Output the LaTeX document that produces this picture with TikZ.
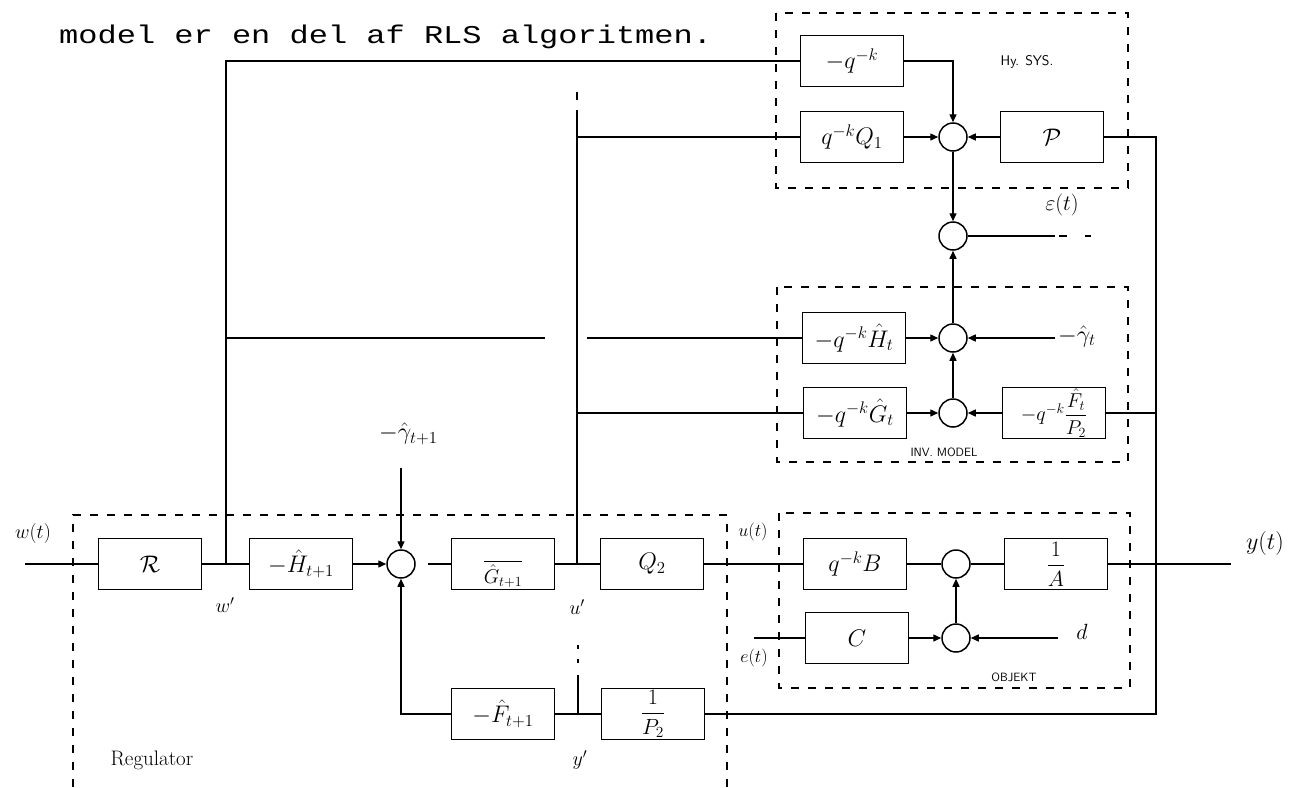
\RequirePackage{fix-cm}
\documentclass[tikz,border=0pt]{standalone}
\usepackage{amsmath}
\usepackage{fontspec}
\newfontfamily\typew{Liberation Mono}
\usetikzlibrary{arrows.meta}
\begin{document}
\begin{tikzpicture}[x=1pt,y=-1pt,
  blk/.style={draw,line width=1.5pt,minimum width=103pt,minimum height=51pt,inner sep=0pt,font=\fontsize{24}{26}\selectfont},
  sum/.style={draw,circle,line width=1.5pt,minimum size=28pt,inner sep=0pt},
  ln/.style={line width=1.4pt},
  arr/.style={line width=1.4pt,-{Triangle[length=8pt,width=7pt]}},
  dsh/.style={line width=1.4pt,dash pattern=on 8pt off 9pt},
  lbl/.style={inner sep=0pt,font=\fontsize{20}{22}\selectfont},
  tag/.style={inner sep=0pt,font=\sffamily\fontsize{12}{14}\selectfont}]
\useasboundingbox (0,0) rectangle (1305,787);

% top line of text
\node[anchor=base west,inner sep=0pt] (txt) at (59,43)
  {\scalebox{1}[0.8]{\typew\fontsize{32}{32}\selectfont model er en del af RLS algoritmen.}};

% dashed groups
\draw[dsh] (776,13) rectangle (1128,188);
\draw[dsh] (777,287) rectangle (1128,462);
\draw[dsh] (779,513) rectangle (1130,688);
\draw[dsh] (73,787) -- (73,515) -- (727,515) -- (727,787);

% Hy. sys.
\node[blk] (mq) at (852,61) {$-q^{-k}$};
\node[blk] (q1) at (852,137) {$q^{-k}Q_1$};
\node[sum] (s1) at (953,137) {};
\node[blk] (P) at (1052,137) {$\mathcal{P}$};
\node[tag,font=\sffamily\fontsize{14}{16}\selectfont] (hy) at (1027,62) {Hy. SYS.};
\node[sum] (s2) at (953,236) {};
\node[lbl,font=\fontsize{22}{24}\selectfont] (eps) at (1062,205) {$\varepsilon(t)$};

% inverse model
\node[blk] (hh) at (854,338) {$-q^{-k}\hat H_t$};
\node[sum] (s3) at (953,338) {};
\node[blk] (gh) at (855,413) {$-q^{-k}\hat G_t$};
\node[sum] (s4) at (953,413) {};
\node[blk,font=\fontsize{20}{22}\selectfont] (fp) at (1054,413) {$-q^{-k}\dfrac{\hat F_t}{P_2}$};
\node[tag] (inv) at (944,452) {INV. MODEL};
\node[anchor=west,inner sep=0pt,font=\fontsize{24}{26}\selectfont] (gt) at (1058,336) {$-\hat{\gamma}_t$};

% regulator
\node[blk] (R) at (150,564) {$\mathcal{R}$};
\node[blk] (H1) at (301,564) {$-\hat H_{t+1}$};
\node[sum] (s5) at (401,564) {};
\node[blk,font=\fontsize{20}{22}\selectfont] (G1) at (503,564) {$\dfrac{\phantom{1}}{\hat G_{t+1}}$};
\node[blk] (Q2) at (652,564) {$Q_2$};
\node[blk] (F1) at (503,714) {$-\hat F_{t+1}$};
\node[blk,font=\fontsize{22}{24}\selectfont] (P2) at (653,714) {$\dfrac{1}{P_2}$};
\node[anchor=west,inner sep=0pt,font=\fontsize{24}{26}\selectfont] (g1) at (379,434) {$-\hat{\gamma}_{t+1}$};
\node[lbl,font=\fontsize{21}{23}\selectfont] (reg) at (152,760) {Regulator};
\node[lbl] (wt) at (33,533) {$w(t)$};
\node[lbl] (wp) at (225,605) {$w'$};
\node[lbl] (up) at (577,607) {$u'$};
\node[lbl] (yp) at (580,760) {$y'$};

% object
\node[blk] (B) at (855,564) {$q^{-k}B$};
\node[sum] (s6) at (956,564) {};
\node[blk,font=\fontsize{22}{24}\selectfont] (A) at (1056,564) {$\dfrac{1}{A}$};
\node[blk] (C) at (857,638) {$C$};
\node[sum] (s7) at (956,638) {};
\node[tag] (obj) at (1014,677) {OBJEKT};
\node[lbl,font=\fontsize{18}{20}\selectfont] (ut) at (753,532) {$u(t)$};
\node[lbl,font=\fontsize{18}{20}\selectfont] (et) at (754,658) {$e(t)$};
\node[lbl,font=\fontsize{22}{24}\selectfont] (dd) at (1082,632) {$d$};
\node[lbl,font=\fontsize{24}{26}\selectfont] (yt) at (1265,543) {$y(t)$};

% coordinates
\coordinate (win) at (25,564);
\coordinate (jw) at (226,564);
\coordinate (ju) at (577,564);
\coordinate (jutop) at (577,110);
\coordinate (cg1) at (545,338);
\coordinate (cg2) at (587,338);
\coordinate (jr1) at (1156,137);
\coordinate (jr2) at (1156,413);
\coordinate (jr3) at (1156,714);
\coordinate (jy) at (578,714);
\coordinate (yout) at (1231,564);
\coordinate (ein) at (754,638);
\coordinate (din) at (1058,638);
\coordinate (gin) at (1055,338);
\coordinate (g1s) at (401,468);
\coordinate (epso) at (1055,236);

% regulator connections
\draw[ln] (win) -- (R);
\draw[ln] (R) -- (H1);
\draw[arr] (H1) -- (s5);
\draw[ln,shorten <=12pt] (s5) -- (G1);
\draw[ln] (G1) -- (Q2);
\draw[ln] (Q2) -- (B);
\draw[arr] (g1s) -- (s5);
\draw[arr] (F1.west) -| (s5.south);
\draw[ln] (P2) -- (F1);
\draw[ln] (jy) -- (578,675);
\draw[ln] (578,659) -- (578,663);
\draw[ln] (578,645) -- (578,649);

% branches up
\draw[ln] (jw) |- (mq.west);
\draw[ln] (jw |- cg1) -- (cg1);
\draw[ln] (cg2) -- (hh.west);
\draw[ln] (ju) -- (jutop);
\draw[ln] (577,92) -- (577,100);
\draw[ln] (ju |- q1.west) -- (q1.west);
\draw[ln] (ju |- gh.west) -- (gh.west);

% hy sys
\draw[arr] (mq.east) -| (s1.north);
\draw[arr] (q1) -- (s1);
\draw[arr] (P) -- (s1);
\draw[arr] (s1) -- (s2);
\draw[ln] (s2) -- (epso);
\draw[ln] (1059,236) -- (1067,236);
\draw[ln] (1085,236) -- (1091,236);

% inverse model
\draw[arr] (s3) -- (s2);
\draw[arr] (hh) -- (s3);
\draw[arr] (gin) -- (s3);
\draw[arr] (s4) -- (s3);
\draw[arr] (gh) -- (s4);
\draw[arr] (fp) -- (s4);

% right feedback
\draw[ln] (P) -- (jr1) -- (jr3) -- (P2);
\draw[ln] (fp) -- (jr2);

% object
\draw[ln] (B) -- (s6);
\draw[ln] (s6) -- (A);
\draw[ln] (A) -- (yout);
\draw[ln] (ein) -- (C);
\draw[arr] (C) -- (s7);
\draw[arr] (din) -- (s7);
\draw[arr] (s7) -- (s6);
\end{tikzpicture}
\end{document}
